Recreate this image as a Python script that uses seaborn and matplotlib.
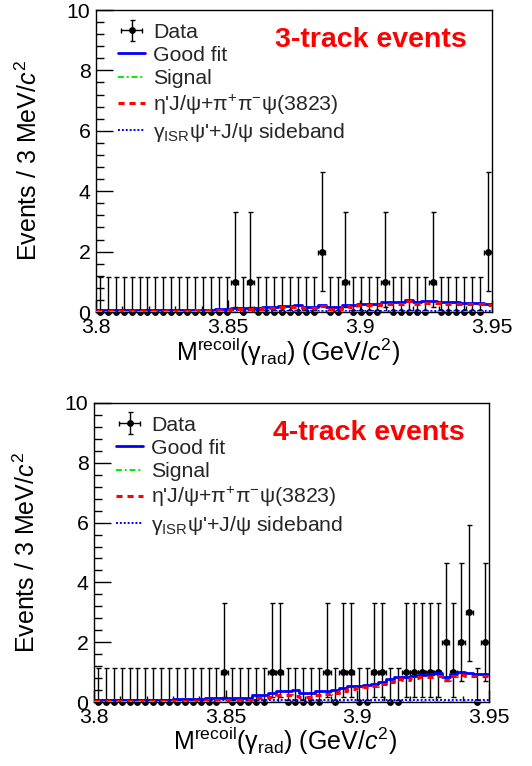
import numpy as np
import pandas as pd
import matplotlib
matplotlib.use("Agg")
import matplotlib.pyplot as plt
import seaborn as sns
from matplotlib.ticker import MultipleLocator, FixedLocator

# ---------------- data ----------------
x_lo, x_hi, bin_w = 3.80, 3.95, 0.003
xtick_vals = [3.80, 3.85, 3.90, 3.95]
xtick_labels = ["3.8", "3.85", "3.9", "3.95"]
ytick_vals = [0, 2, 4, 6, 8, 10]

# 3-track events
data3 = [0, 0, 0, 0, 0, 0, 0, 0, 0, 0,
         0, 0, 0, 0, 0, 0, 0, 1, 0, 1,
         0, 0, 0, 0, 0, 0, 0, 0, 2, 0,
         0, 1, 0, 0, 0, 0, 1, 0, 0, 0,
         0, 0, 1, 0, 0, 0, 0, 0, 0, 2]
fit3 = [0.05, 0.05, 0.05, 0.05, 0.05, 0.06, 0.06, 0.06, 0.06, 0.07,
        0.07, 0.07, 0.08, 0.08, 0.08, 0.10, 0.11, 0.13, 0.13, 0.12,
        0.13, 0.15, 0.15, 0.20, 0.21, 0.22, 0.18, 0.18, 0.24, 0.15,
        0.15, 0.23, 0.22, 0.27, 0.27, 0.28, 0.32, 0.32, 0.32, 0.40,
        0.32, 0.35, 0.35, 0.33, 0.32, 0.32, 0.31, 0.30, 0.30, 0.28]
bkg3 = [0.02, 0.02, 0.02, 0.02, 0.02, 0.03, 0.03, 0.03, 0.03, 0.04,
        0.04, 0.04, 0.05, 0.05, 0.05, 0.07, 0.08, 0.10, 0.10, 0.09,
        0.10, 0.12, 0.12, 0.16, 0.17, 0.18, 0.14, 0.14, 0.20, 0.11,
        0.11, 0.19, 0.18, 0.23, 0.23, 0.24, 0.28, 0.28, 0.28, 0.36,
        0.28, 0.31, 0.31, 0.29, 0.28, 0.28, 0.27, 0.26, 0.26, 0.24]
sig3 = [0.005] * 50
side3 = [0.02] * 50

# 4-track events
data4 = [0, 0, 0, 0, 0, 0, 0, 0, 0, 0,
         0, 0, 0, 0, 0, 0, 1, 0, 0, 0,
         0, 0, 1, 1, 0, 0, 0, 0, 0, 1,
         0, 1, 1, 0, 0, 1, 1, 0, 0, 1,
         1, 1, 1, 1, 2, 1, 2, 3, 0, 2]
fit4 = [0.08, 0.08, 0.08, 0.08, 0.08, 0.08, 0.08, 0.08, 0.08, 0.08,
        0.10, 0.10, 0.10, 0.10, 0.14, 0.14, 0.14, 0.12, 0.12, 0.12,
        0.22, 0.24, 0.29, 0.38, 0.36, 0.39, 0.31, 0.31, 0.38, 0.37,
        0.41, 0.48, 0.55, 0.55, 0.57, 0.61, 0.67, 0.76, 0.85, 0.82,
        0.88, 0.91, 0.92, 0.96, 0.82, 0.94, 0.99, 0.96, 0.94, 0.95]
bkg4 = [0.02, 0.02, 0.02, 0.02, 0.02, 0.02, 0.02, 0.02, 0.02, 0.02,
        0.04, 0.04, 0.04, 0.04, 0.06, 0.06, 0.06, 0.06, 0.06, 0.06,
        0.12, 0.14, 0.18, 0.22, 0.22, 0.20, 0.18, 0.18, 0.24, 0.26,
        0.30, 0.37, 0.44, 0.46, 0.49, 0.53, 0.59, 0.67, 0.76, 0.74,
        0.80, 0.83, 0.85, 0.88, 0.75, 0.86, 0.91, 0.88, 0.86, 0.87]
sig4 = [0.01] * 50
side4 = [0.06] * 50

# Poisson (68%) error lookup for counts 0..3
pois_lo = [0.0, 0.827, 1.291, 1.633]
pois_hi = [1.148, 2.299, 2.638, 2.918]

labels = ["Data", "Good fit", "Signal",
          "η'J/ψ+π$^{+}$π$^{-}$ψ(3823)",
          "γ$_{\\rm ISR}$ψ'+J/ψ sideband"]
panel_titles = ["3-track events", "4-track events"]

# ---------------- style ----------------
sns.set_theme(style="ticks")
plt.rcParams["font.family"] = ["Liberation Sans", "DejaVu Sans"]
plt.rcParams["mathtext.fontset"] = "custom"
plt.rcParams["mathtext.rm"] = "Liberation Sans"
plt.rcParams["mathtext.it"] = "Liberation Sans:italic"
plt.rcParams["mathtext.bf"] = "Liberation Sans:bold"
plt.rcParams["mathtext.default"] = "regular"

fig = plt.figure(figsize=(5.32, 7.66), dpi=100)
ax_top = fig.add_axes([96 / 532, 1 - 312 / 766, 396 / 532, 302 / 766])
ax_bot = fig.add_axes([94 / 532, 1 - 702 / 766, 395 / 532, 299 / 766])

edges = np.round(np.linspace(x_lo, x_hi, len(data3) + 1), 4)
centers = (edges[:-1] + edges[1:]) / 2


def step_df(vals):
    v = list(vals) + [vals[-1]]
    return pd.DataFrame({"x": edges, "y": v})


def draw_panel(ax, data, fit, bkg, sig, side, title):
    counts = np.array(data)
    lo = np.array([pois_lo[c] for c in counts])
    hi = np.array([pois_hi[c] for c in counts])
    xerr = np.where(counts > 0, bin_w / 2 * 0.92, 0.0)
    cont = ax.errorbar(centers, counts, xerr=xerr, yerr=[lo, hi], fmt="o",
                       color="black", ms=3.9, elinewidth=1.0, capsize=1.8,
                       capthick=1.0, label=labels[0], zorder=3)
    cont[0].set_clip_on(False)

    d = step_df(side)
    sns.lineplot(data=d, x="x", y="y", ax=ax, drawstyle="steps-post",
                 color="#0000ff", lw=1.4, label=labels[4], sort=False,
                 zorder=6)
    ax.lines[-1].set_linestyle((0, (1, 1)))
    d = step_df(bkg)
    sns.lineplot(data=d, x="x", y="y", ax=ax, drawstyle="steps-post",
                 color="#ff0000", lw=2.2, label=labels[3], sort=False,
                 zorder=6)
    ax.lines[-1].set_linestyle((0, (2, 1.6)))
    d = step_df(sig)
    sns.lineplot(data=d, x="x", y="y", ax=ax, drawstyle="steps-post",
                 color="#00ee00", lw=1.4, label=labels[2], sort=False,
                 zorder=6)
    ax.lines[-1].set_linestyle((0, (3, 1.5, 1, 1.5)))
    d = step_df(fit)
    sns.lineplot(data=d, x="x", y="y", ax=ax, drawstyle="steps-post",
                 color="#0000ff", lw=2.0, label=labels[1], sort=False,
                 zorder=5)

    ax.set_xlim(x_lo, x_hi)
    ax.set_ylim(0, 10)
    ax.xaxis.set_major_locator(FixedLocator(xtick_vals))
    ax.set_xticklabels(xtick_labels)
    ax.xaxis.set_minor_locator(MultipleLocator(0.01))
    ax.yaxis.set_major_locator(FixedLocator(ytick_vals))
    ax.set_yticklabels([str(v) for v in ytick_vals])
    ax.yaxis.set_minor_locator(MultipleLocator(0.4))
    ax.tick_params(axis="both", which="both", direction="in", width=1.0,
                   colors="black", labelsize=15.3)
    ax.tick_params(axis="y", which="major", length=12, pad=4)
    ax.tick_params(axis="y", which="minor", length=6)
    ax.tick_params(axis="x", which="major", length=9, pad=4)
    ax.tick_params(axis="x", which="minor", length=4.5)
    for s in ax.spines.values():
        s.set_color("black")
        s.set_linewidth(1.0)

    ax.set_xlabel("M$^{\\rm recoil}$(γ$_{\\rm rad}$) (GeV/$\\mathit{c}^{2}$)",
                  fontsize=18, color="black")
    ax.xaxis.set_label_coords(0.485, -0.078)
    ax.set_ylabel("Events / 3 MeV/$\\mathit{c}^{2}$", fontsize=18,
                  color="black")
    ax.yaxis.set_label_coords(-0.136, 0.5)

    handles, labs = ax.get_legend_handles_labels()
    order = [labs.index(l) for l in labels]
    ax.legend([handles[i] for i in order], [labs[i] for i in order],
              loc="upper left", bbox_to_anchor=(0.055, 0.958), frameon=False,
              fontsize=15.3, handlelength=1.3, handletextpad=0.35,
              labelspacing=0.2, borderpad=0.0, borderaxespad=0.0)

    ax.text(0.452, 0.90, title, transform=ax.transAxes, color="#ff0000",
            fontsize=20.5, fontweight="bold", ha="left", va="center")


draw_panel(ax_top, data3, fit3, bkg3, sig3, side3, panel_titles[0])
draw_panel(ax_bot, data4, fit4, bkg4, sig4, side4, panel_titles[1])

fig.savefig("out.png", dpi=100)
